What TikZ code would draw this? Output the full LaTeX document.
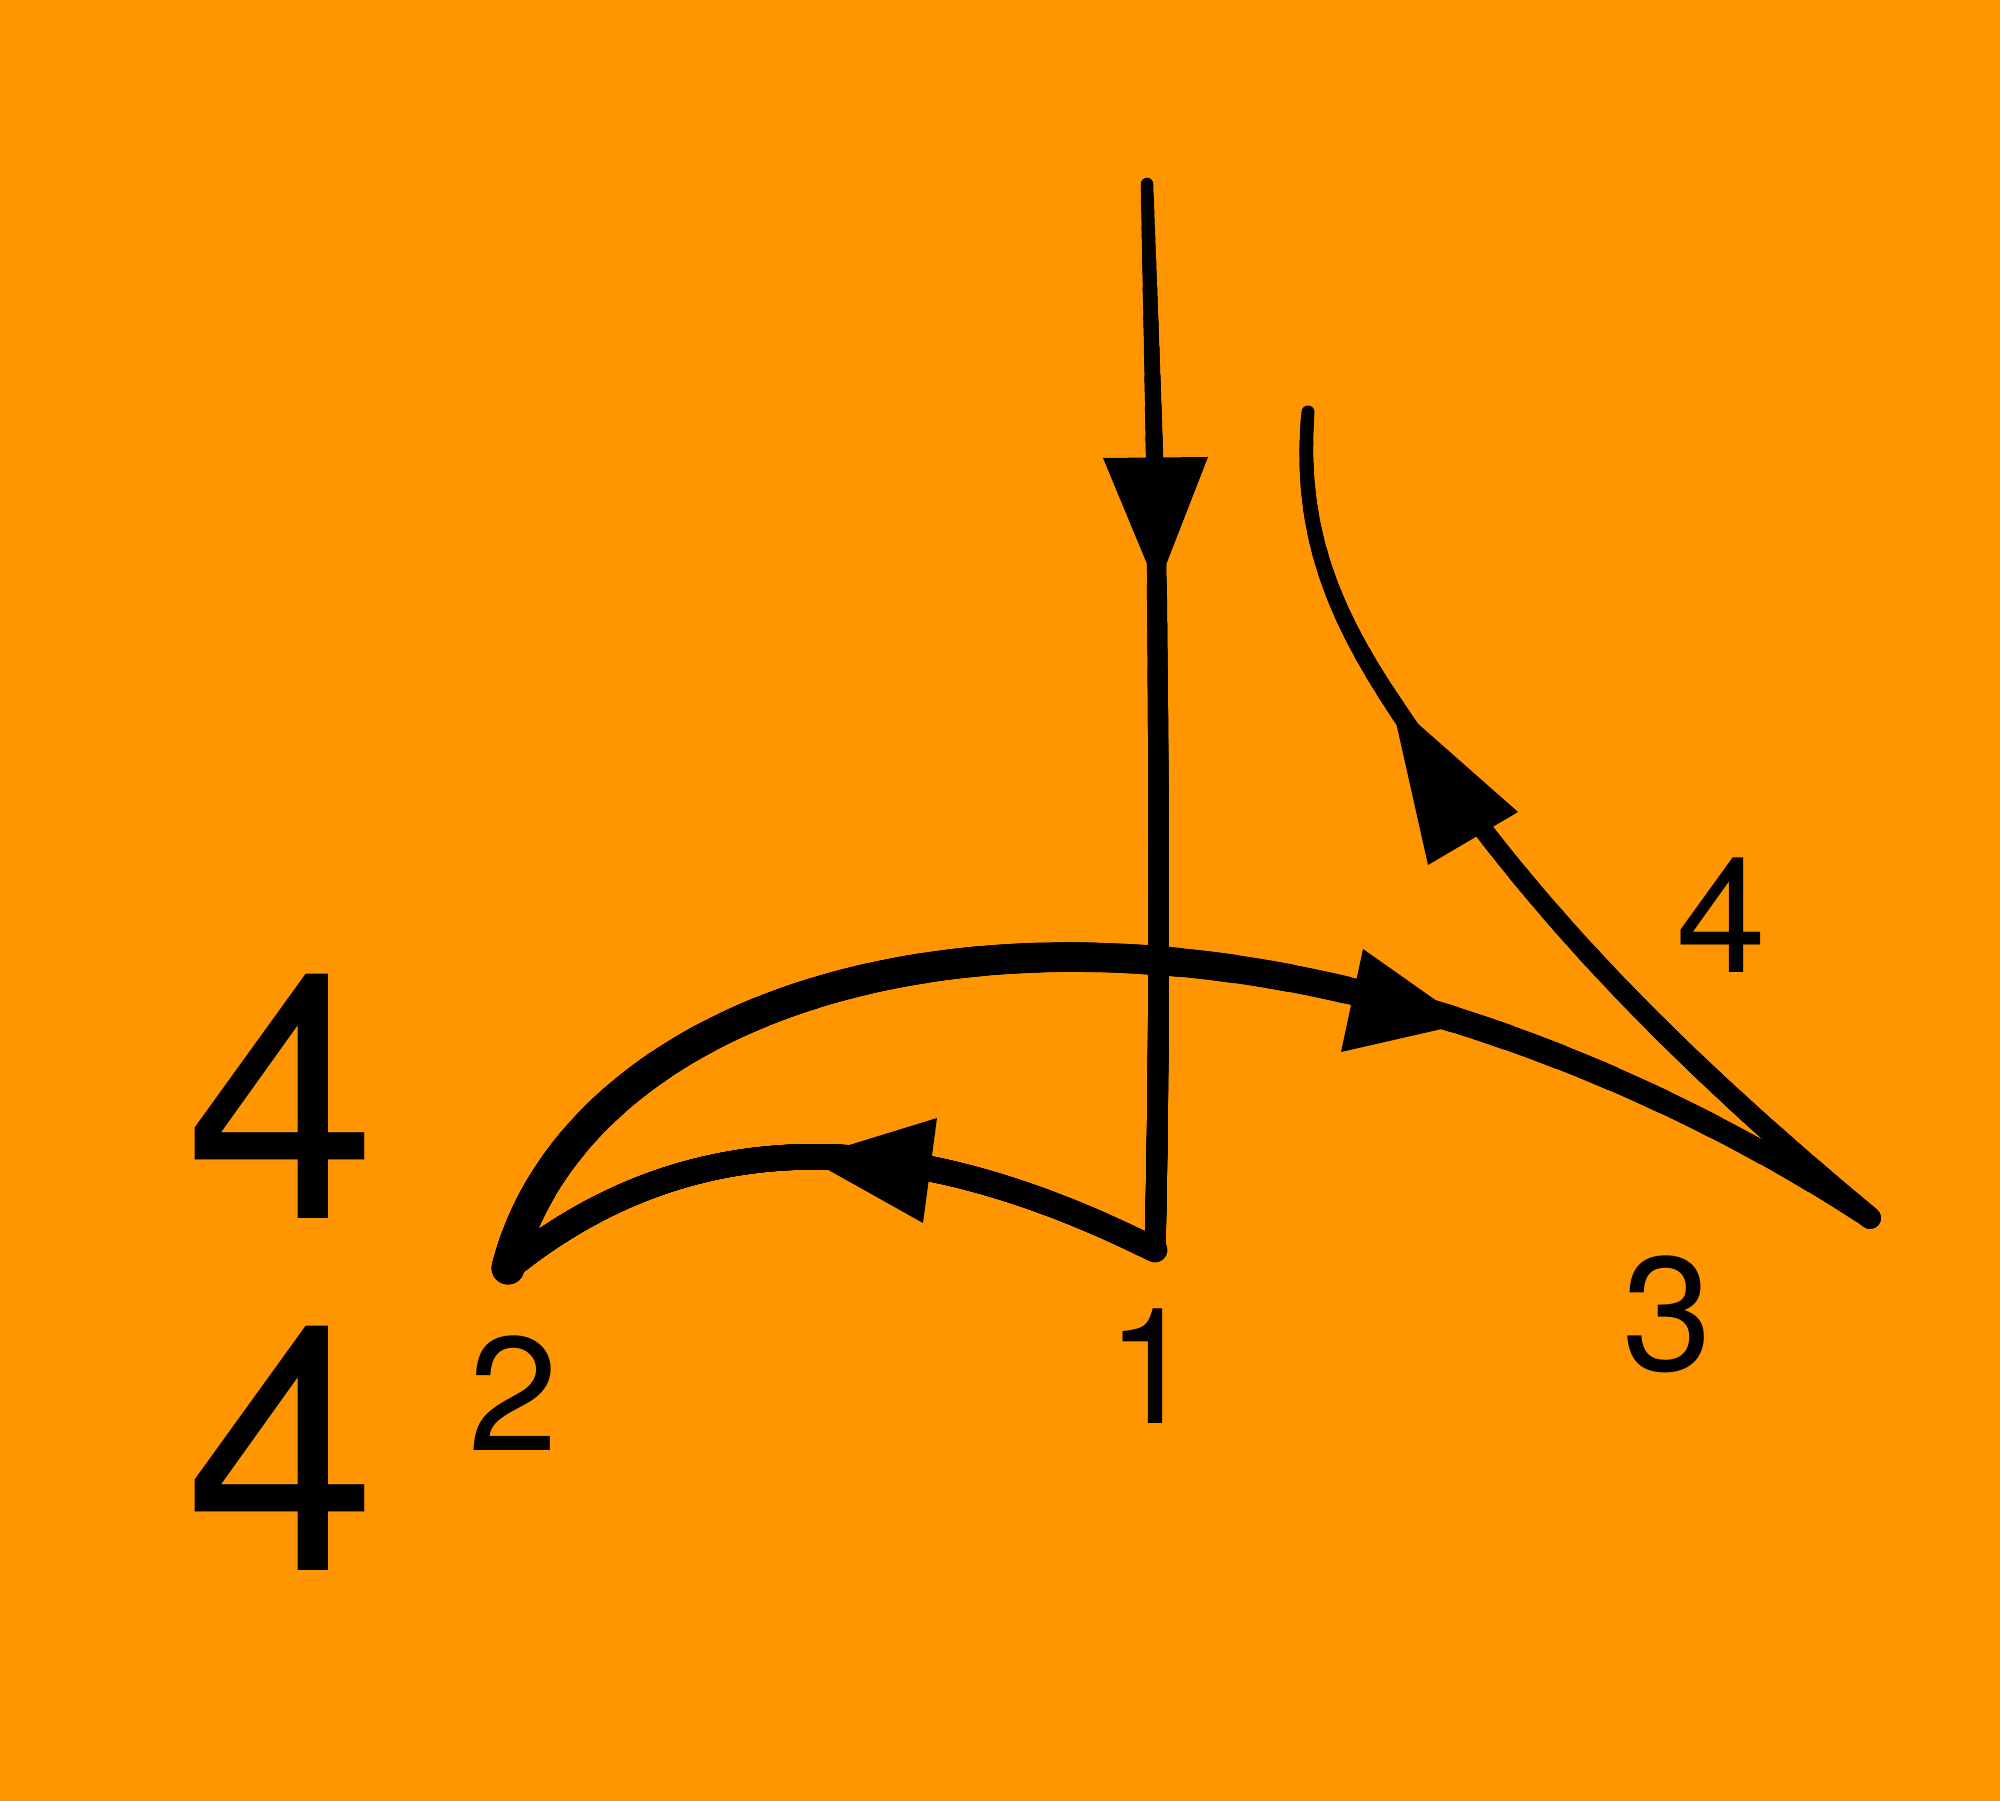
\documentclass[tikz,border=0pt]{standalone}
\usepackage{fontspec}
\setmainfont{TeX Gyre Heros}
\definecolor{bg}{HTML}{FF9500}
\tikzset{
  lab/.style={inner sep=0pt, anchor=base, font=\fontsize{46}{50}\selectfont},
  biglab/.style={inner sep=0pt, anchor=base, font=\fontsize{98}{100}\selectfont},
  head/.style={fill=black},
}
% tapered stroke, wide at the start of the path and narrow at its end:
% #1 path command, #2 start width, #3 end width (#2>=#3), #4 approx length (px)
\newcommand\taperdraw[4]{%
  #1{line width=0.2845*#3 pt}%
  \foreach \k in {1,...,14}{%
    \pgfmathsetmacro\tw{0.2845*(#3+(#2-#3)*\k/14)}%
    \pgfmathsetmacro\ton{0.2845*#4*(1-(\k-0.5)/14)}%
    #1{line width=\tw pt, dash pattern=on \ton pt off 5000pt}%
  }%
}
% edges (each drawn from its wide end)
\newcommand\edgeAa[1]{\draw[#1] (M) .. controls (qa2) and (qa1) .. (s0);}
\newcommand\edgeAb[1]{\draw[#1] (n1) .. controls (qa4) and (qa3) .. (M);}
\newcommand\edgeB[1]{\draw[#1] (n2) .. controls (qb2) and (qb1) .. (n1);}
\newcommand\edgeCa[1]{\draw[#1] (n2) .. controls (qc1) and (qc2) .. (J);}
\newcommand\edgeCb[1]{\draw[#1] (J) .. controls (qc3) and (qc4) .. (n3);}
\newcommand\edgeDa[1]{\draw[#1] (n3) .. controls (qd1) and (qd2) .. (K);}
\newcommand\edgeDb[1]{\draw[#1] (K) .. controls (qd3) and (qd4) .. (e0);}
\begin{document}
\begin{tikzpicture}[x=0.01cm,y=-0.01cm,line cap=round,line join=round]
\fill[bg] (0,0) rectangle (2000,1801);
\useasboundingbox (0,0) rectangle (2000,1801);
% path points
\coordinate (s0) at (1147,184);
\coordinate (M) at (1157,600);
\coordinate (n1) at (1155,1250);
\coordinate (n2) at (508,1268);
\coordinate (n3) at (1870,1218);
\coordinate (e0) at (1308,412);
\coordinate (J) at (1150,960);
\coordinate (K) at (1391,700);
% control points
\coordinate (qa1) at (1151,330);
\coordinate (qa2) at (1156,480);
\coordinate (qa3) at (1159,800);
\coordinate (qa4) at (1160,1050);
\coordinate (qb1) at (946,1145);
\coordinate (qb2) at (714,1101);
\coordinate (qc1) at (556,1076);
\coordinate (qc2) at (800,935);
\coordinate (qc3) at (1400,977);
\coordinate (qc4) at (1665,1082);
\coordinate (qd1) at (1618,1008);
\coordinate (qd2) at (1495.5,858.6);
\coordinate (qd3) at (1330.5,608);
\coordinate (qd4) at (1298.4,526);
% connectors
\taperdraw{\edgeAa}{20}{12.5}{416}
\taperdraw{\edgeAb}{21}{20}{650}
\taperdraw{\edgeB}{26}{25}{700}
\taperdraw{\edgeCa}{33}{29}{800}
\taperdraw{\edgeCb}{29}{21}{790}
\taperdraw{\edgeDa}{22}{18}{730}
\taperdraw{\edgeDb}{18}{13}{310}
% arrowheads
\coordinate (hA) at (1157,588); \coordinate (hA1) at (1103,458); \coordinate (hA2) at (1208,457);
\coordinate (hB) at (807,1158); \coordinate (hB1) at (937,1118); \coordinate (hB2) at (923,1223);
\coordinate (hC) at (1468,1023); \coordinate (hC1) at (1363,949); \coordinate (hC2) at (1341,1052);
\coordinate (hD) at (1391,700); \coordinate (hD1) at (1518,812); \coordinate (hD2) at (1428,865);
\fill[head] (hA) -- (hA1) -- (hA2) -- cycle;
\fill[head] (hB) -- (hB1) -- (hB2) -- cycle;
\fill[head] (hC) -- (hC1) -- (hC2) -- cycle;
\fill[head] (hD) -- (hD1) -- (hD2) -- cycle;
% labels
\node[lab] (l1) at (1151,1423) {1};
\node[lab] (l2) at (513,1450) {2};
\node[lab] (l3) at (1667,1370) {3};
\node[lab] (l4) at (1721,972) {4};
\node[biglab] (g1) at (281,1218) {4};
\node[biglab] (g2) at (281,1570) {4};
\end{tikzpicture}
\end{document}
